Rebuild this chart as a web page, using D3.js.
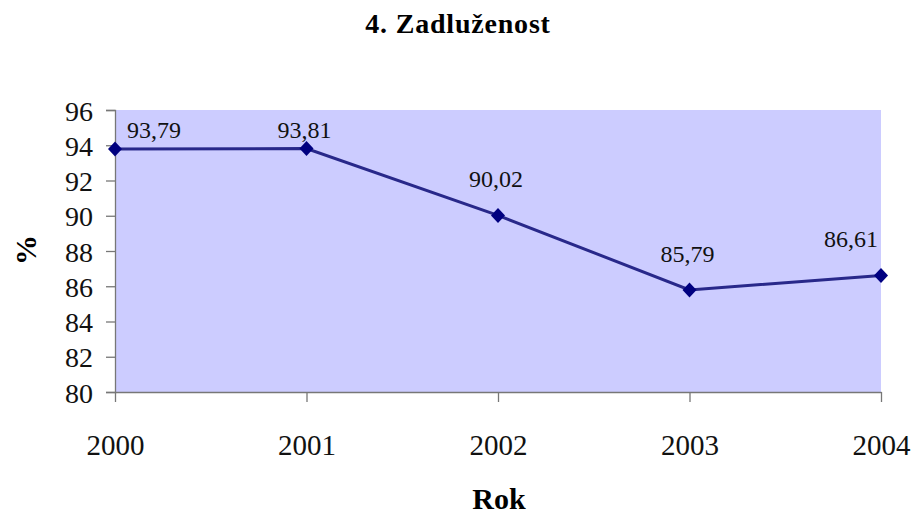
<!DOCTYPE html>
<html><head><meta charset="utf-8">
<script src="https://cdn.jsdelivr.net/npm/d3@7"></script>
<style>body{margin:0;background:#fff}svg{display:block}</style>
</head><body>
<svg id="c" width="916" height="515"></svg>
<script>
const years = ["2000","2001","2002","2003","2004"];
const values = [93.79, 93.81, 90.02, 85.79, 86.61];
const valueLabels = ["93,79","93,81","90,02","85,79","86,61"];
const yTicks = [80,82,84,86,88,90,92,94,96];
const title = "4. Zadluženost";
const xTitle = "Rok";
const yTitle = "%";

const svg = d3.select("#c");
const L = 115, R = 881, T = 110, B = 392;
const font = "'Liberation Serif','Times New Roman',Times,serif";

const x = d3.scalePoint().domain(years).range([L, R]);
const y = d3.scaleLinear().domain([80, 96]).range([B, T]);

svg.append("rect").attr("x", L).attr("y", T).attr("width", R - L).attr("height", B - T).attr("fill", "#ccccff");

// y axis
const ya = svg.append("g").attr("transform", `translate(${L},0)`)
  .call(d3.axisLeft(y).tickValues(yTicks).tickSize(9).tickPadding(13).tickFormat(d3.format("d")));
ya.select(".domain").attr("stroke", "#777").attr("stroke-width", 1.3);
ya.selectAll(".tick line").attr("stroke", "#777").attr("stroke-width", 1.3);
ya.selectAll("text").style("font-family", font).attr("font-size", 28).attr("fill", "#111").attr("dy", "0.36em");

// x axis
const xa = svg.append("g").attr("transform", `translate(0,${B})`)
  .call(d3.axisBottom(x).tickSize(10).tickPadding(32).tickSizeOuter(0));
xa.select(".domain").attr("stroke", "#777").attr("stroke-width", 1.3);
xa.selectAll(".tick line").attr("stroke", "#777").attr("stroke-width", 1.3);
xa.selectAll("text").style("font-family", font).attr("font-size", 29).attr("fill", "#111").attr("dy", "0.71em");

// line
const pts = years.map((yr, i) => ({yr, v: values[i], lab: valueLabels[i]}));
svg.append("path").datum(pts)
  .attr("d", d3.line().x(d => x(d.yr)).y(d => y(d.v)))
  .attr("fill", "none").attr("stroke", "#28288a").attr("stroke-width", 3);

svg.selectAll(".mk").data(pts).enter().append("path")
  .attr("d", "M0,-7.5L7,0L0,7.5L-7,0Z")
  .attr("transform", d => `translate(${x(d.yr)},${y(d.v)})`)
  .attr("fill", "#000080");

// data labels
svg.selectAll(".lb").data(pts).enter().append("text")
  .style("font-family", font).attr("font-size", 24).attr("fill", "#111")
  .attr("text-anchor", (d, i) => i === 0 ? "start" : (i === pts.length - 1 ? "end" : "middle"))
  .attr("x", (d, i) => i === 0 ? x(d.yr) + 12 : (i === pts.length - 1 ? x(d.yr) - 3 : x(d.yr) - 2))
  .attr("y", d => Math.max(y(d.v) - 28, T + 28))
  .text(d => d.lab);

// titles
svg.append("text").attr("x", 458).attr("y", 33).attr("text-anchor", "middle")
  .style("font-family", font).attr("font-weight", "bold").attr("font-size", 28).attr("letter-spacing", 0.8)
  .attr("fill", "#000").text(title);
svg.append("text").attr("x", 499).attr("y", 509).attr("text-anchor", "middle")
  .style("font-family", font).attr("font-weight", "bold").attr("font-size", 30)
  .attr("fill", "#000").text(xTitle);
svg.append("text").attr("transform", "translate(36,250) rotate(-90)").attr("text-anchor", "middle")
  .style("font-family", font).attr("font-weight", "bold").attr("font-size", 30)
  .attr("fill", "#000").text(yTitle);
</script>
</body></html>
